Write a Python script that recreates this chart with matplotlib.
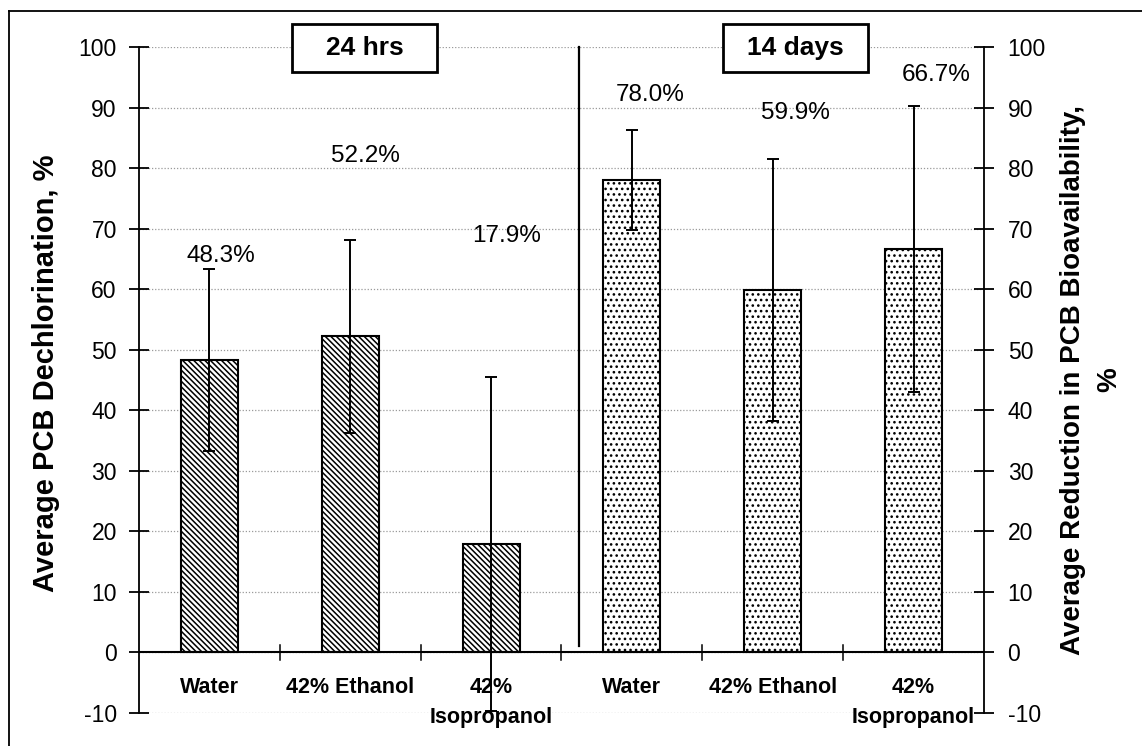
import matplotlib
matplotlib.use("Agg")
import matplotlib.pyplot as plt
from matplotlib.patches import Rectangle
from matplotlib.lines import Line2D

plt.rcParams['font.family'] = ['Liberation Sans', 'DejaVu Sans']
plt.rcParams['hatch.linewidth'] = 1.1
plt.rcParams['axes.unicode_minus'] = False

# Data
categories = ["Water", "42% Ethanol", "42%\nIsopropanol",
              "Water", "42% Ethanol", "42%\nIsopropanol"]
values_24h = [48.3, 52.2, 17.9]
errors_24h = [15.1, 15.9, 27.6]
values_14d = [78.0, 59.9, 66.7]
errors_14d = [8.3, 21.6, 23.6]
period_labels = ["24 hrs", "14 days"]
yticks = list(range(-10, 101, 10))

# Label placement (x offset from bar, y height)
label_dx = [0.08, 0.11, 0.11, 0.13, 0.16, 0.16]
label_y = [65.5, 82.0, 68.8, 92.1, 89.1, 95.4]

fig = plt.figure(figsize=(11.42, 7.46), dpi=100)
ax = fig.add_axes([139 / 1142, 1 - 713 / 746, 845 / 1142, 666 / 746])

x24 = [0, 1, 2]
x14 = [3, 4, 5]
bw = 0.405
ax.bar(x24, values_24h, width=bw, facecolor='white', edgecolor='black',
       linewidth=1.5, hatch='\\' * 6, zorder=3)
ax.bar(x14, values_14d, width=bw, facecolor='white', edgecolor='black',
       linewidth=1.5, hatch='...', zorder=3)
ax.errorbar(x24 + x14, values_24h + values_14d, yerr=errors_24h + errors_14d,
            fmt='none', ecolor='black', elinewidth=1.4, capsize=4.5,
            capthick=1.4, zorder=4, clip_on=False)

values = values_24h + values_14d
for i, v in enumerate(values):
    ax.text(i + label_dx[i], label_y[i], f"{v:.1f}%", ha='center', va='center',
            fontsize=17.5, zorder=5)

# Axes styling
ax.set_xlim(-0.5, 5.5)
ax.set_ylim(-10, 100)
ax.set_yticks(yticks)
ax.yaxis.grid(True, linestyle=(0, (1, 1.5)), color='#9a9a9a', linewidth=0.9)
ax.set_axisbelow(True)
for s in ['top', 'bottom', 'right']:
    ax.spines[s].set_visible(False)
ax.spines['left'].set_linewidth(1.3)
ax.tick_params(axis='y', direction='inout', length=14, width=1.3,
               labelsize=16.5, pad=9)
ax.axhline(0, color='black', linewidth=1.5, zorder=3)
ax.set_xticks([])
for xb in [0.5, 1.5, 2.5, 3.5, 4.5]:
    ax.plot([xb, xb], [-1.2, 1.2], color='black', lw=1.1, zorder=3)

for i, c in enumerate(categories):
    ax.text(i, -4.05, c, ha='center', va='top', fontsize=15.5,
            fontweight='bold', linespacing=1.55, zorder=2)

ax.set_ylabel("Average PCB Dechlorination, %", fontsize=21, fontweight='bold')
ax.yaxis.set_label_coords(-0.093, 0.51)

ax2 = ax.twinx()
ax2.set_ylim(-10, 100)
ax2.set_yticks(yticks)
for s in ['top', 'bottom', 'left']:
    ax2.spines[s].set_visible(False)
ax2.spines['right'].set_linewidth(1.3)
ax2.tick_params(axis='y', direction='inout', length=14, width=1.3,
                labelsize=16.5, pad=10)
ax2.set_ylabel("Average Reduction in PCB Bioavailability,\n%", fontsize=20,
               fontweight='bold', linespacing=1.5)
ax2.yaxis.set_label_coords(1.090, 0.5)

# Separator between periods
ax.plot([2.624, 2.624], [1.0, 100], color='black', lw=1.6, zorder=4,
        clip_on=False)

# Period boxes
for cx, txt in zip([1.101, 4.161], period_labels):
    ax.add_patch(Rectangle((cx - 0.515, 95.9), 1.03, 7.9, facecolor='white',
                           edgecolor='black', linewidth=2, zorder=6,
                           clip_on=False))
    ax.text(cx, 99.85, txt, ha='center', va='center', fontsize=19,
            fontweight='bold', zorder=7)

# Outer frame lines
fig.add_artist(Line2D([9 / 1142, 1.0], [1 - 11 / 746, 1 - 11 / 746],
                      color='black', lw=1.3, transform=fig.transFigure))
fig.add_artist(Line2D([9 / 1142, 9 / 1142], [0, 1 - 11 / 746],
                      color='black', lw=1.3, transform=fig.transFigure))

fig.savefig("out.png", dpi=100)
